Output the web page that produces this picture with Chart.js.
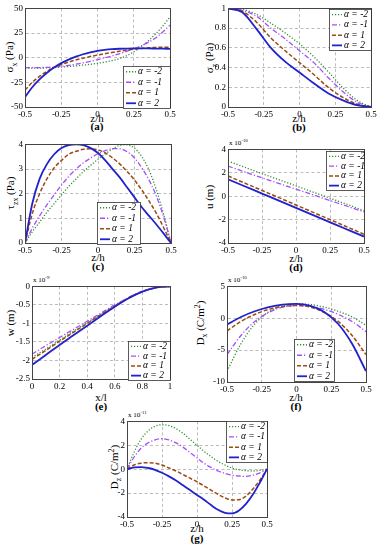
<!DOCTYPE html>
<html>
<head>
<meta charset="utf-8">
<script src="https://cdn.jsdelivr.net/npm/chart.js@4"></script>
<style>
body { margin:0; background:#fff; width:382px; height:550px; position:relative; overflow:hidden; font-family:"Liberation Serif", serif; color:#000; }
canvas { position:absolute; }
.lab { position:absolute; font-size:11px; white-space:nowrap; transform:translate(-50%,-50%); }
.yt { transform:translate(-50%,-50%) rotate(-90deg); }
.pl { font-weight:bold; font-size:11px; }
.ex { position:absolute; font-size:7px; white-space:nowrap; }
sub, sup { font-size:70%; }
</style>
</head>
<body>
<div class="lab yt" style="left:11px;top:57px">σ<sub>x</sub> (Pa)</div>
<div class="lab yt" style="left:211px;top:58px">σ<sub>z</sub> (Pa)</div>
<div class="lab yt" style="left:12px;top:193px">τ<sub>zx</sub> (Pa)</div>
<div class="lab yt" style="left:209px;top:197px">u (m)</div>
<div class="lab yt" style="left:10px;top:323px">w (m)</div>
<div class="lab yt" style="left:201px;top:323px">D<sub>x</sub> (C/m<sup>2</sup>)</div>
<div class="lab yt" style="left:115px;top:467px">D<sub>z</sub> (C/m<sup>2</sup>)</div>

<div class="lab" style="left:97px;top:118px">z/h</div>
<div class="lab" style="left:299px;top:118px">z/h</div>
<div class="lab" style="left:98px;top:257px">z/h</div>
<div class="lab" style="left:296px;top:258px">z/h</div>
<div class="lab" style="left:101px;top:397px">x/l</div>
<div class="lab" style="left:296px;top:397px">z/h</div>
<div class="lab" style="left:197px;top:528px">z/h</div>

<div class="lab pl" style="left:97px;top:126px">(a)</div>
<div class="lab pl" style="left:299px;top:127px">(b)</div>
<div class="lab pl" style="left:98px;top:266px">(c)</div>
<div class="lab pl" style="left:296px;top:267px">(d)</div>
<div class="lab pl" style="left:101px;top:406px">(e)</div>
<div class="lab pl" style="left:296px;top:406px">(f)</div>
<div class="lab pl" style="left:197px;top:538px">(g)</div>

<div class="ex" style="left:229px;top:138px">x 10<sup>-10</sup></div>
<div class="ex" style="left:33px;top:275px">x 10<sup>-9</sup></div>
<div class="ex" style="left:228px;top:275px">x 10<sup>-10</sup></div>
<div class="ex" style="left:128px;top:410px">x 10<sup>-11</sup></div>

<script>
// abscissae
const zh21 = [-0.5,-0.45,-0.4,-0.35,-0.3,-0.25,-0.2,-0.15,-0.1,-0.05,0,0.05,0.1,0.15,0.2,0.25,0.3,0.35,0.4,0.45,0.5];
const zh11 = [-0.5,-0.4,-0.3,-0.2,-0.1,0,0.1,0.2,0.3,0.4,0.5];
const xl11 = [0,0.1,0.2,0.3,0.4,0.5,0.6,0.7,0.8,0.9,1];
const alphaLabels = ['α = -2', 'α = -1', 'α = 1', 'α = 2'];

// tick labels
const zhTicks = [-0.5,-0.25,0,0.25,0.5];
const xlTicks = [0,0.2,0.4,0.6,0.8,1];
const ticksA = [-50,-25,0,25,50];
const ticksB = [0,0.2,0.4,0.6,0.8,1];
const ticksC = [0,1,2,3,4];
const ticksD = [-4,-2,0,2,4];
const ticksE = [-2.5,-2,-1.5,-1,-0.5,0];
const ticksF = [-10,-5,0,5];
const ticksG = [-4,-2,0,2,4];

// (a) sigma_x, on zh21
const sxN2 = [-10.5,-10.5,-10.5,-10.3,-10,-9.6,-9,-8.3,-7.5,-6.7,-5.7,-4.5,-3,-1,2,6,11,17,24,32,41.5];
const sxN1 = [-10,-10,-10,-9.8,-9.5,-8.8,-7.8,-6.6,-5.2,-3.7,-2,-0.2,1.8,4,6.4,9,12,15.5,20,26,33];
const sxP1 = [-33,-25,-19,-14,-10,-7,-4.5,-2.3,-0.5,1.2,2.7,4,5.3,6.5,7.6,8.6,9.4,10,10.4,10.6,10.7];
const sxP2 = [-40,-30,-22,-15.5,-10,-5.5,-2,1,3.5,5.5,7,8,8.7,9.1,9.3,9.4,9.4,9.4,9.3,9.2,9];

// (b) sigma_z, on zh11
const szN2 = [1,0.99,0.94,0.85,0.75,0.64,0.51,0.36,0.2,0.07,0];
const szN1 = [1,0.98,0.92,0.8,0.69,0.57,0.45,0.3,0.16,0.05,0];
const szP1 = [1,0.97,0.86,0.7,0.57,0.45,0.33,0.2,0.1,0.03,0];
const szP2 = [1,0.96,0.79,0.6,0.46,0.35,0.24,0.14,0.07,0.02,0];

// (c) tau_zx, on zh21
const tzN2 = [0,0.45,0.85,1.25,1.6,1.95,2.3,2.6,2.9,3.15,3.4,3.62,3.82,3.96,3.98,3.85,3.5,2.95,2.15,1.15,0];
const tzN1 = [0,0.6,1.1,1.55,1.95,2.35,2.7,3,3.25,3.45,3.62,3.75,3.83,3.82,3.7,3.45,3.05,2.55,1.9,1.05,0];
const tzP1 = [0,1.2,2,2.6,3.05,3.35,3.6,3.72,3.8,3.82,3.78,3.65,3.45,3.2,2.9,2.55,2.15,1.7,1.2,0.62,0];
const tzP2 = [0,1.6,2.6,3.2,3.6,3.85,3.97,4,3.97,3.85,3.65,3.35,3,2.65,2.25,1.85,1.45,1.1,0.75,0.38,0];

// (d) u (x 1e-10), on zh11
const uN2 = [3,2.57,2.14,1.72,1.3,0.88,0.46,0.04,-0.38,-0.8,-1.25];
const uN1 = [2.57,2.17,1.77,1.38,0.99,0.6,0.22,-0.17,-0.56,-0.95,-1.35];
const uP1 = [1.73,1.23,0.74,0.24,-0.25,-0.75,-1.25,-1.75,-2.25,-2.75,-3.25];
const uP2 = [1.45,0.96,0.47,-0.02,-0.51,-1,-1.49,-1.98,-2.47,-2.96,-3.45];

// (e) w (x 1e-9), on xl11
const wN2 = [-1.92,-1.69,-1.45,-1.21,-0.98,-0.75,-0.52,-0.31,-0.14,-0.03,0];
const wN1 = [-1.83,-1.6,-1.38,-1.16,-0.94,-0.72,-0.5,-0.3,-0.13,-0.03,0];
const wP1 = [-1.97,-1.73,-1.48,-1.24,-1,-0.76,-0.53,-0.31,-0.14,-0.03,0];
const wP2 = [-2.12,-1.85,-1.58,-1.32,-1.06,-0.8,-0.55,-0.32,-0.14,-0.03,0];

// (f) D_x (x 1e-10), on zh11
const dxN2 = [-8.3,-4,-0.9,1,1.95,2.25,2.15,1.75,1.1,0.2,-1.1];
const dxN1 = [-5.7,-2.7,-0.5,0.9,1.75,2,1.85,1.4,0.6,-0.5,-2.1];
const dxP1 = [-2,-0.5,0.6,1.4,1.85,2,1.75,0.9,-0.5,-2.7,-5.7];
const dxP2 = [-1,0.2,1.1,1.75,2.15,2.25,1.95,1,-0.9,-4,-8.3];

// (g) D_z (x 1e-11), on zh21
const dzN2 = [0,1.4,2.5,3.2,3.6,3.72,3.65,3.4,3,2.5,2,1.5,1.05,0.65,0.35,0.1,-0.05,-0.12,-0.15,-0.1,0];
const dzN1 = [0,1,1.75,2.2,2.45,2.55,2.45,2.2,1.85,1.4,0.95,0.5,0.15,-0.15,-0.35,-0.5,-0.57,-0.6,-0.5,-0.3,0];
const dzP1 = [0,0.35,0.5,0.55,0.5,0.35,0.1,-0.15,-0.45,-0.75,-1.05,-1.4,-1.75,-2.1,-2.4,-2.57,-2.55,-2.25,-1.65,-0.9,0];
const dzP2 = [0,0.15,0.18,0.1,-0.05,-0.3,-0.6,-0.95,-1.35,-1.75,-2.15,-2.55,-3,-3.4,-3.65,-3.7,-3.45,-2.9,-2.1,-1.1,0];

const lineStyles = [
    { color: '#2f8f2f', dash: [1.2, 1.8], width: 1.3 },
    { color: '#a64dff', dash: [5, 2, 1.2, 2], width: 1.3 },
    { color: '#9a4a14', dash: [4, 2], width: 1.5 },
    { color: '#2222cc', dash: [], width: 1.8 },
];

const panels = [
    { rect: [25, 7, 170, 107], yW: 25, xs: zh21, ys: [sxN2, sxN1, sxP1, sxP2], xr: [-0.5, 0.5], xt: zhTicks, yr: [-50, 50], yt: ticksA, leg: { dx: 98, dy: 58, w: 47, h: 42 } },
    { rect: [228, 7, 371, 107], yW: 37, xs: zh11, ys: [szN2, szN1, szP1, szP2], xr: [-0.5, 0.5], xt: zhTicks, yr: [0, 1], yt: ticksB, leg: { dx: 101, dy: 1, w: 42, h: 41 } },
    { rect: [25, 143, 171, 243], yW: 25, xs: zh21, ys: [tzN2, tzN1, tzP1, tzP2], xr: [-0.5, 0.5], xt: zhTicks, yr: [0, 4], yt: ticksC, leg: { dx: 72, dy: 58, w: 43, h: 42 } },
    { rect: [228, 148, 364, 243], yW: 37, xs: zh11, ys: [uN2, uN1, uP1, uP2], xr: [-0.5, 0.5], xt: zhTicks, yr: [-4, 4], yt: ticksD, leg: { dx: 98, dy: 2, w: 38, h: 39 } },
    { rect: [32, 285, 170, 379], yW: 32, xs: xl11, ys: [wN2, wN1, wP1, wP2], xr: [0, 1], xt: xlTicks, yr: [-2.5, 0], yt: ticksE, leg: { dx: 96, dy: 55, w: 42, h: 39 } },
    { rect: [227, 285, 366, 382], yW: 36, xs: zh11, ys: [dxN2, dxN1, dxP1, dxP2], xr: [-0.5, 0.5], xt: zhTicks, yr: [-10, 5], yt: ticksF, leg: { dx: 67, dy: 53, w: 40, h: 42 } },
    { rect: [127, 420, 267, 517], yW: 37, xs: zh21, ys: [dzN2, dzN1, dzP1, dzP2], xr: [-0.5, 0.5], xt: zhTicks, yr: [-4, 4], yt: ticksG, leg: { dx: 99, dy: 0, w: 41, h: 41 } },
];

// box frame, matlab style
function makeFrame() {
    return {
        id: 'frame',
        afterDatasetsDraw(chart) {
            const a = chart.chartArea, ctx = chart.ctx;
            ctx.save();
            ctx.strokeStyle = '#444';
            ctx.lineWidth = 1;
            ctx.strokeRect(Math.round(a.left) + 0.5, Math.round(a.top) + 0.5, Math.round(a.right - a.left), Math.round(a.bottom - a.top));
            ctx.restore();
        }
    };
}

function makeLegend(p) {
    const o = p.leg;
    return {
        id: 'boxLegend',
        afterDraw(chart) {
            const a = chart.chartArea, ctx = chart.ctx;
            const x = Math.round(a.left + o.dx), y = Math.round(a.top + o.dy);
            ctx.save();
            ctx.fillStyle = '#fff';
            ctx.fillRect(x, y, o.w, o.h);
            ctx.strokeStyle = '#333';
            ctx.lineWidth = 0.8;
            ctx.strokeRect(x + 0.5, y + 0.5, o.w, o.h);
            const rowH = o.h / 4;
            chart.data.datasets.forEach((ds, i) => {
                const cy = y + rowH * (i + 0.5) + 0.5;
                ctx.strokeStyle = ds.borderColor;
                ctx.lineWidth = ds.borderWidth;
                ctx.setLineDash(ds.borderDash);
                ctx.beginPath();
                ctx.moveTo(x + 3, cy);
                ctx.lineTo(x + 13, cy);
                ctx.stroke();
                ctx.setLineDash([]);
                ctx.fillStyle = '#000';
                ctx.font = 'italic 9.5px "Liberation Serif"';
                ctx.textBaseline = 'middle';
                ctx.fillText(ds.label, x + 15, cy);
            });
            ctx.restore();
        }
    };
}

const padT = 6, padR = 12, xH = 12;
const tickFont = { family: '"Liberation Serif"', size: 9 };

// grid through chart.js itself (as in round 1, where vertical lines did show), dashed via border.dash
const gridOpts = { display: true, drawOnChartArea: true, drawTicks: false, color: '#b4b4b4', lineWidth: 0.9 };
const borderOpts = { display: true, color: 'rgba(0,0,0,0)', dash: [3, 2.5] };

panels.forEach(p => {
    const [L, T, R, B] = p.rect;
    const cv = document.createElement('canvas');
    const w = R - L + p.yW + padR, h = B - T + padT + xH;
    cv.width = w; cv.height = h;
    cv.style.left = (L - p.yW) + 'px';
    cv.style.top = (T - padT) + 'px';
    cv.style.width = w + 'px';
    cv.style.height = h + 'px';
    document.body.appendChild(cv);

    new Chart(cv.getContext('2d'), {
        type: 'line',
        data: {
            datasets: p.ys.map((ys, i) => ({
                label: alphaLabels[i],
                data: p.xs.map((x, j) => ({ x: x, y: ys[j] })),
                borderColor: lineStyles[i].color,
                borderDash: lineStyles[i].dash,
                borderWidth: lineStyles[i].width,
                pointRadius: 0,
                cubicInterpolationMode: 'monotone',
                fill: false,
                order: 3 - i,
            })),
        },
        options: {
            responsive: false,
            animation: false,
            layout: { autoPadding: false, padding: { top: padT, right: padR, left: 0, bottom: 0 } },
            plugins: { legend: { display: false }, tooltip: { enabled: false } },
            scales: {
                x: {
                    type: 'linear', min: p.xr[0], max: p.xr[1],
                    afterBuildTicks: s => { s.ticks = p.xt.map(v => ({ value: v })); },
                    afterFit: s => { s.height = xH; },
                    grid: gridOpts,
                    border: borderOpts,
                    ticks: { color: '#000', font: tickFont, padding: 2, autoSkip: false, maxRotation: 0, callback: v => String(v) },
                },
                y: {
                    min: p.yr[0], max: p.yr[1],
                    afterBuildTicks: s => { s.ticks = p.yt.map(v => ({ value: v })); },
                    afterFit: s => { s.width = p.yW; },
                    grid: gridOpts,
                    border: borderOpts,
                    ticks: { color: '#000', font: tickFont, padding: 2, autoSkip: false, callback: v => String(v) },
                },
            },
        },
        plugins: [makeFrame(), makeLegend(p)],
    });
});
</script>
</body>
</html>
